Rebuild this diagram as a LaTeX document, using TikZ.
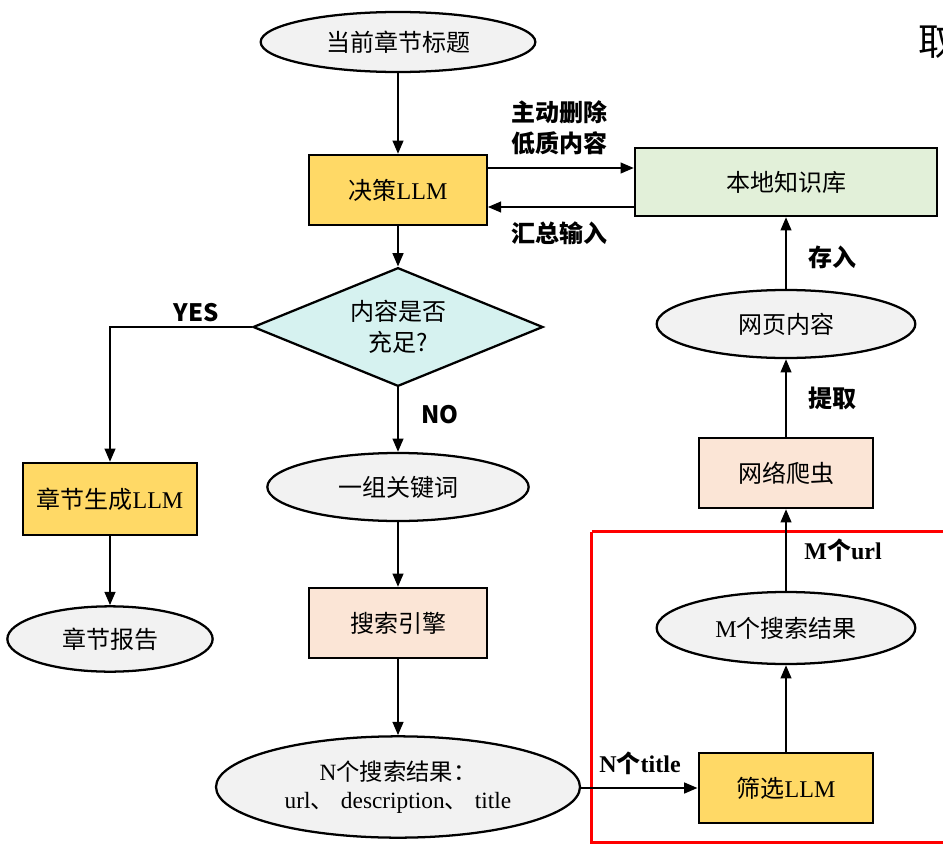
\documentclass[tikz,border=0pt]{standalone}
\usepackage{fontspec}
\setmainfont{Liberation Serif}
\newfontfamily\cjk{Noto Sans CJK SC}
\usetikzlibrary{shapes.geometric,arrows.meta}

\tikzset{every picture/.style={line width=1.7pt}}
\tikzset{
	basenode/.style={draw=black, inner sep=0pt, font=\fontsize{18}{23}\selectfont\cjk},
	llmbox/.style={basenode, rectangle, fill={rgb,255:red,255;green,217;blue,102}, minimum width=133pt, minimum height=52.5pt},
	toolbox/.style={basenode, rectangle, fill={rgb,255:red,251;green,229;blue,214}, minimum width=133pt, minimum height=52.5pt},
	kbbox/.style={basenode, rectangle, fill={rgb,255:red,226;green,240;blue,217}, minimum width=226.5pt, minimum height=51pt},
	dataell/.style={basenode, ellipse, fill={rgb,255:red,242;green,242;blue,242}},
	askdiam/.style={basenode, diamond, fill={rgb,255:red,214;green,242;blue,240}, shape aspect=2.4, minimum width=217.5pt, minimum height=89pt, align=center},
	flowarr/.style={-{Triangle[length=10pt,width=8pt]}},
	lbl/.style={font=\fontsize{18}{23}\selectfont\bfseries\cjk, align=center, inner sep=0pt},
	lblen/.style={font=\fontsize{18}{22}\selectfont\bfseries, inner sep=0pt}
}

\begin{document}
\begin{tikzpicture}[x=0.75pt,y=0.75pt,yscale=-1,xscale=1]
	\useasboundingbox (0,0) rectangle (943,846);

	%Red frame
	\draw [draw={rgb,255:red,255;green,0;blue,0}, line width=2.3pt] (591.5,531.5) -- (960,531.5) (591.5,531.5) -- (591.5,842.5) -- (960,842.5) ;
	%Cut-off title
	\node [font=\fontsize{28}{32}\selectfont\cjk, anchor=west, inner sep=0pt] (ttl) at (917,42) {取};

	%Left column
	\node [dataell, minimum width=206pt, minimum height=45pt] (cur) at (398,42) {当前章节标题};
	\node [llmbox] (dec) at (398,190) {决策{\rmfamily LLM}};
	\node [askdiam] (ask) at (398,327) {内容是否\\充足?};
	\node [dataell, minimum width=196pt, minimum height=51pt] (kw) at (398,487) {一组关键词};
	\node [toolbox] (se) at (398,623) {搜索引擎};
	\node [dataell, minimum width=273pt, minimum height=76pt, align=center, font=\fontsize{17.5}{21}\selectfont\cjk] (nres) at (398,787) {{\rmfamily N}个搜索结果：\\{\rmfamily url}、\hspace{0.3em}{\rmfamily description}、\hspace{0.3em}{\rmfamily title}};

	%Report branch
	\node [llmbox, minimum width=130.5pt, minimum height=54pt] (gen) at (110,499) {章节生成{\rmfamily LLM}};
	\node [dataell, minimum width=154pt, minimum height=49pt] (rep) at (110,639) {章节报告};

	%Right column
	\node [kbbox] (kb) at (786,182) {本地知识库};
	\node [dataell, minimum width=194pt, minimum height=51pt] (page) at (786,324) {网页内容};
	\node [toolbox, minimum width=131pt] (crawl) at (786,473) {网络爬虫};
	\node [dataell, minimum width=194pt, minimum height=54pt] (mres) at (786,628) {{\rmfamily M}个搜索结果};
	\node [llmbox, minimum width=131pt] (filt) at (786,788) {筛选{\rmfamily LLM}};

	%Connectors
	\draw [flowarr] (cur) -- (dec);
	\draw [flowarr] ([yshift=-16.5pt]dec.east) -- ([yshift=-16.5pt]dec.east -| kb.west);
	\draw [flowarr] ([yshift=12.75pt]dec.east -| kb.west) -- ([yshift=12.75pt]dec.east);
	\draw [flowarr] (dec) -- (ask);
	\draw [flowarr] (ask.west) -| (gen.north);
	\draw [flowarr] (ask) -- (kw);
	\draw [flowarr] (gen) -- (rep);
	\draw [flowarr] (kw) -- (se);
	\draw [flowarr] (se) -- (nres);
	\draw [flowarr] (filt.west -| nres.east) -- (filt.west);
	\draw [flowarr] (filt) -- (mres);
	\draw [flowarr] (mres) -- (crawl);
	\draw [flowarr] (crawl) -- (page);
	\draw [flowarr] (page) -- (kb);

	%Labels
	\node [lbl] (ldel) at (559,128) {主动删除\\低质内容};
	\node [lbl] (lsum) at (559,233) {汇总输入};
	\node [lbl] (lyes) at (196,313) {YES};
	\node [lbl] (lno) at (440,415) {NO};
	\node [lbl] (lsave) at (832,257) {存入};
	\node [lbl] (lext) at (832,398) {提取};
	\node [lblen] (lurl) at (843,550) {M{\cjk 个}url};
	\node [lblen] (ltit) at (640,763) {N{\cjk 个}title};

\end{tikzpicture}
\end{document}
